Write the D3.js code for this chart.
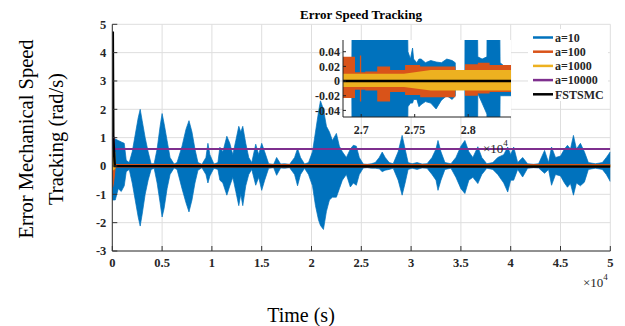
<!DOCTYPE html>
<html>
<head>
<meta charset="utf-8">
<script src="https://cdn.jsdelivr.net/npm/d3@7"></script>
<style>
  body { margin: 0; background: #fff; }
  svg { display: block; }
  text { font-family: "Liberation Serif", "Times New Roman", serif; }
</style>
</head>
<body>
<svg id="fig" width="625" height="326"></svg>
<script>
// ---- data (time in units of 1e4 s) ----
const xTicks = [0, 0.5, 1, 1.5, 2, 2.5, 3, 3.5, 4, 4.5, 5];
const yTicks = [-3, -2, -1, 0, 1, 2, 3, 4, 5];
const legendNames = ["a=10", "a=100", "a=1000", "a=10000", "FSTSMC"];
const colors = ["#0072BD", "#D95319", "#EDB120", "#7E2F8E", "#000000"];

// a=10 envelope (dense oscillation -> upper / lower)
const blueT = [0, 0.03, 0.06, 0.09, 0.12, 0.14, 0.17, 0.2, 0.23, 0.26, 0.28, 0.3, 0.33, 0.36, 0.39, 0.42, 0.45, 0.48, 0.5, 0.52, 0.55, 0.58, 0.62, 0.65, 0.7, 0.74, 0.77, 0.8, 0.83, 0.86, 0.9, 0.94, 0.96, 0.98, 1.02, 1.06, 1.08, 1.11, 1.15, 1.18, 1.21, 1.24, 1.27, 1.29, 1.31, 1.34, 1.37, 1.4, 1.44, 1.47, 1.5, 1.53, 1.57, 1.62, 1.65, 1.69, 1.73, 1.78, 1.83, 1.86, 1.89, 1.93, 1.97, 2.01, 2.04, 2.07, 2.09, 2.12, 2.15, 2.18, 2.21, 2.25, 2.28, 2.31, 2.35, 2.39, 2.42, 2.45, 2.48, 2.52, 2.56, 2.6, 2.64, 2.68, 2.71, 2.74, 2.78, 2.82, 2.87, 2.91, 2.94, 2.97, 3.01, 3.06, 3.11, 3.16, 3.21, 3.25, 3.27, 3.3, 3.34, 3.4, 3.45, 3.5, 3.54, 3.58, 3.62, 3.67, 3.71, 3.76, 3.82, 3.87, 3.93, 3.97, 4.0, 4.03, 4.07, 4.12, 4.17, 4.23, 4.28, 4.34, 4.38, 4.41, 4.45, 4.5, 4.54, 4.57, 4.6, 4.63, 4.66, 4.7, 4.74, 4.78, 4.85, 4.92, 4.96, 5.0];
const blueUp = [0.9, 0.95, 0.9, 0.85, 0.8, 0.2, 0.12, 0.5, 1.1, 1.7, 2.0, 1.6, 1.0, 0.5, 0.08, 0.08, 0.6, 1.4, 1.85, 1.5, 0.9, 0.3, 0.07, 0.12, 0.7, 1.3, 1.6, 1.2, 0.6, 0.12, 0.06, 0.3, 0.8, 0.4, 0.07, 0.12, 0.66, 0.5, 1.05, 0.8, 0.4, 0.9, 1.4, 1.2, 1.4, 0.8, 0.3, 0.12, 0.77, 0.4, 0.8, 0.5, 0.08, 0.06, 0.3, 0.07, 0.08, 0.06, 0.3, 0.62, 0.3, 0.07, 0.12, 0.5, 1.2, 1.9, 2.3, 2.0, 1.4, 1.2, 0.9, 1.15, 0.7, 0.5, 0.3, 0.6, 0.73, 0.7, 0.3, 0.07, 0.06, 0.08, 0.12, 0.3, 0.49, 0.3, 0.12, 0.08, 0.5, 1.08, 0.6, 0.12, 0.08, 0.12, 0.07, 0.08, 0.3, 0.6, 0.9, 0.5, 0.12, 0.08, 0.3, 0.7, 0.9, 0.5, 0.3, 0.68, 0.3, 0.08, 0.12, 0.3, 0.4, 0.67, 0.4, 0.67, 0.12, 0.3, 0.08, 0.06, 0.08, 0.55, 0.12, 0.67, 0.3, 0.35, 0.6, 0.73, 0.6, 1.08, 0.6, 0.8, 0.5, 0.12, 0.08, 0.12, 0.3, 0.5];
const blueLo = [-1.2, -1.2, -0.8, -0.9, -0.7, -0.2, -0.12, -0.6, -1.2, -1.8, -2.12, -1.7, -1.0, -0.5, -0.12, -0.08, -0.6, -1.3, -1.8, -1.5, -0.8, -0.3, -0.07, -0.12, -0.8, -1.3, -1.62, -1.2, -0.6, -0.15, -0.06, -0.3, -0.6, -0.35, -0.08, -0.12, -0.5, -0.6, -1.03, -0.7, -0.4, -0.9, -1.4, -1.0, -1.4, -0.7, -0.3, -0.12, -0.68, -0.4, -0.86, -0.5, -0.08, -0.06, -0.33, -0.07, -0.08, -0.06, -0.3, -0.7, -0.3, -0.08, -0.3, -0.7, -1.4, -1.9, -2.1, -2.24, -1.6, -1.2, -1.1, -1.1, -0.8, -0.5, -0.3, -0.74, -0.6, -0.68, -0.3, -0.07, -0.06, -0.08, -0.08, -0.1, -0.2, -0.15, -0.12, -0.08, -0.5, -1.03, -0.6, -0.12, -0.08, -0.12, -0.07, -0.08, -0.3, -0.5, -0.86, -0.5, -0.12, -0.08, -0.4, -0.8, -0.97, -0.5, -0.4, -0.62, -0.3, -0.08, -0.12, -0.3, -0.6, -0.92, -0.5, -0.5, -0.12, -0.39, -0.08, -0.06, -0.07, -0.26, -0.12, -0.68, -0.3, -0.35, -0.6, -0.75, -0.62, -1.03, -0.6, -0.7, -0.57, -0.12, -0.08, -0.12, -0.3, -0.55];

// a=100, a=1000 bands
const orangeT = [0, 0.003, 0.012, 0.025, 0.03, 5];
const orangeUp = [0, 0, 0, 0, 0.05, 0.05];
const orangeLo = [0, -0.75, -0.6, -0.2, -0.04, -0.04];
const yellowT = [0, 0.003, 0.025, 0.03, 5];
const yellowUp = [0.55, 0.55, 0.5, 0.015, 0.015];
const yellowLo = [-0.15, -0.15, -0.1, -0.015, -0.015];

// a=10000 and FSTSMC lines
const purpleT = [0, 0.003, 0.015, 0.02, 5];
const purpleV = [0.6, 1.08, 1.0, 0.6, 0.6];
const blackT = [0.005, 0.01, 0.025, 5];
const blackV = [4.75, 1.0, 0.0, -0.02];

// zoomed inset
const insetXTicks = [2.7, 2.75, 2.8];
const insetYTicks = [-0.04, -0.02, 0, 0.02, 0.04];
const insBlueT = [2.6912, 2.6914, 2.7435, 2.7437, 2.746, 2.748, 2.749, 2.752, 2.754, 2.756, 2.76, 2.765, 2.77, 2.775, 2.78, 2.785, 2.7879, 2.788, 2.7969, 2.797, 2.8088, 2.809, 2.813, 2.8175, 2.8176, 2.8296, 2.8298, 2.834, 2.84];
const insBlueUp = [0, 0.06, 0.06, 0.04, 0.03, 0.045, 0.03, 0.025, 0.03, 0.03, 0.025, 0.028, 0.026, 0.025, 0.03, 0.028, 0.025, 0, 0, 0.06, 0.06, 0.033, 0.03, 0.033, 0.06, 0.06, 0.025, 0.02, 0.02];
const insBlueLo = [0, -0.06, -0.06, -0.035, -0.03, -0.03, -0.025, -0.025, -0.035, -0.032, -0.028, -0.03, -0.038, -0.026, -0.02, -0.025, -0.02, 0, 0, -0.06, -0.06, -0.017, -0.03, -0.045, -0.06, -0.06, -0.02, -0.02, -0.02];
// orange is a sequence of blocks (step)
const insOrangeT = [2.683, 2.6942, 2.6988, 2.7, 2.7038, 2.715, 2.727, 2.741, 2.7551, 2.788, 2.797, 2.809, 2.82, 2.84];
const insOrangeUp = [0.033, 0.012, 0.035, 0.012, 0.013, 0.02, 0.015, 0.022, 0.02, 0.01, 0.023, 0.025, 0.022, 0.022];
const insOrangeLo = [-0.023, -0.012, -0.028, -0.012, -0.013, -0.028, -0.015, -0.019, -0.022, -0.01, -0.02, -0.017, -0.015, -0.015];
const insYellowT = [2.683, 2.74, 2.765, 2.84];
const insYellowUp = [0.01, 0.01, 0.015, 0.015];
const insYellowLo = [-0.008, -0.008, -0.013, -0.013];
const insBlackT = [2.683, 2.84];
const insBlackV = [0, 0];

// ---- layout ----
const svg = d3.select("#fig");
const pL = 112.3, pR = 610.3, pT = 24.3, pB = 251;
const x = d3.scaleLinear().domain([0, 5]).range([pL, pR]);
const y = d3.scaleLinear().domain([-3, 5]).range([pB, pT]);

const band = (T, U, L) => T.map((t, i) => ({t, u: U[i], l: L[i]}));
const pts = (T, V) => T.map((t, i) => ({t, v: V[i]}));

svg.append("clipPath").attr("id", "mainClip")
  .append("rect").attr("x", pL).attr("y", pT).attr("width", pR - pL).attr("height", pB - pT);

// grid
const grid = svg.append("g").attr("stroke", "#dedede").attr("stroke-width", 1);
xTicks.forEach(t => grid.append("line").attr("x1", x(t)).attr("x2", x(t)).attr("y1", pT).attr("y2", pB));
yTicks.forEach(t => grid.append("line").attr("x1", pL).attr("x2", pR).attr("y1", y(t)).attr("y2", y(t)));

// series
const plot = svg.append("g").attr("clip-path", "url(#mainClip)");
const area = d3.area().x(d => x(d.t)).y0(d => y(d.l)).y1(d => y(d.u));
const line = d3.line().x(d => x(d.t)).y(d => y(d.v));

plot.append("path").datum(band(blueT, blueUp, blueLo))
  .attr("d", area).attr("fill", colors[0]).attr("stroke", colors[0]).attr("stroke-width", 0.7);
plot.append("path").datum(band(orangeT, orangeUp, orangeLo))
  .attr("d", area).attr("fill", colors[1]).attr("stroke", colors[1]).attr("stroke-width", 1);
plot.append("path").datum(band(yellowT, yellowUp, yellowLo))
  .attr("d", area).attr("fill", colors[2]).attr("stroke", colors[2]).attr("stroke-width", 1);
plot.append("path").datum(pts(purpleT, purpleV))
  .attr("d", line).attr("fill", "none").attr("stroke", colors[3]).attr("stroke-width", 2);
plot.append("path").datum(pts(blackT, blackV))
  .attr("d", line).attr("fill", "none").attr("stroke", colors[4]).attr("stroke-width", 2.5);

// axes (left + bottom, ticks inward)
const axisColor = "#333";
const ax = svg.append("g");
ax.append("line").attr("x1", pL).attr("x2", pL).attr("y1", pT).attr("y2", pB).attr("stroke", axisColor);
ax.append("line").attr("x1", pL).attr("x2", pR).attr("y1", pB).attr("y2", pB).attr("stroke", axisColor);
yTicks.forEach(t => {
  ax.append("line").attr("x1", pL).attr("x2", pL + 5).attr("y1", y(t)).attr("y2", y(t)).attr("stroke", axisColor);
  ax.append("text").attr("x", pL - 6).attr("y", y(t)).attr("dy", "0.35em")
    .attr("text-anchor", "end").attr("font-size", 12.5).attr("font-weight", "bold").attr("fill", "#262626").text(t);
});
xTicks.forEach(t => {
  ax.append("line").attr("x1", x(t)).attr("x2", x(t)).attr("y1", pB).attr("y2", pB - 5).attr("stroke", axisColor);
  ax.append("text").attr("x", x(t)).attr("y", pB + 16)
    .attr("text-anchor", "middle").attr("font-size", 12.5).attr("font-weight", "bold").attr("fill", "#262626").text(t);
});

// exponent label
const ex = svg.append("text").attr("x", 583).attr("y", 287).attr("font-size", 13).attr("fill", "#262626");
ex.append("tspan").text("\u00d710");
ex.append("tspan").attr("dy", -7).attr("font-size", 9).text("4");

// titles
svg.append("text").attr("x", 361).attr("y", 19).attr("text-anchor", "middle")
  .attr("font-size", 13).attr("font-weight", "bold").text("Error Speed Tracking");
svg.append("text").attr("x", 301).attr("y", 322).attr("text-anchor", "middle")
  .attr("font-size", 20).text("Time (s)");
const yl = svg.append("text").attr("transform", "translate(33,139) rotate(-90)")
  .attr("text-anchor", "middle").attr("font-size", 20.5);
yl.append("tspan").attr("x", 0).attr("y", 0).text("Error Mechanical Speed");
yl.append("tspan").attr("x", 0).attr("y", 30).text("Tracking (rad/s)");

// ---- inset ----
const iL = 343, iR = 511, iT = 40, iB = 117;
const ix = d3.scaleLinear().domain([2.683, 2.84]).range([iL, iR]);
const iy = d3.scaleLinear().domain([-0.049, 0.056]).range([iB, iT]);
svg.append("rect").attr("x", iL).attr("y", iT).attr("width", iR - iL).attr("height", iB - iT).attr("fill", "#fff");
svg.append("clipPath").attr("id", "insClip")
  .append("rect").attr("x", iL).attr("y", iT).attr("width", iR - iL).attr("height", iB - iT);
const ins = svg.append("g").attr("clip-path", "url(#insClip)");
const iarea = d3.area().x(d => ix(d.t)).y0(d => iy(d.l)).y1(d => iy(d.u));
const iline = d3.line().x(d => ix(d.t)).y(d => iy(d.v));

ins.append("path").datum(band(insBlueT, insBlueUp, insBlueLo))
  .attr("d", iarea).attr("fill", colors[0]).attr("stroke", colors[0]).attr("stroke-width", 0.8);
ins.append("path").datum(band(insOrangeT, insOrangeUp, insOrangeLo))
  .attr("d", iarea.curve(d3.curveStepAfter)).attr("fill", colors[1]);
iarea.curve(d3.curveLinear);
ins.append("path").datum(band(insYellowT, insYellowUp, insYellowLo))
  .attr("d", iarea).attr("fill", colors[2]);
ins.append("path").datum(pts(insBlackT, insBlackV))
  .attr("d", iline).attr("fill", "none").attr("stroke", "#000").attr("stroke-width", 2.5);

const iax = svg.append("g");
iax.append("line").attr("x1", iL).attr("x2", iL).attr("y1", iT).attr("y2", iB).attr("stroke", "#222");
iax.append("line").attr("x1", iL).attr("x2", iR).attr("y1", iB).attr("y2", iB).attr("stroke", "#222");
insetYTicks.forEach(t => {
  iax.append("line").attr("x1", iL).attr("x2", iL + 3).attr("y1", iy(t)).attr("y2", iy(t)).attr("stroke", "#222");
  iax.append("text").attr("x", iL - 3).attr("y", iy(t)).attr("dy", "0.35em").attr("text-anchor", "end")
    .attr("font-size", 12).attr("font-weight", "bold").attr("fill", "#262626").text(t === 0 ? "0" : t.toFixed(2));
});
insetXTicks.forEach(t => {
  iax.append("line").attr("x1", ix(t)).attr("x2", ix(t)).attr("y1", iB).attr("y2", iB - 3).attr("stroke", "#222");
  iax.append("text").attr("x", ix(t)).attr("y", iB + 17).attr("text-anchor", "middle")
    .attr("font-size", 12).attr("font-weight", "bold").attr("fill", "#262626").text(t);
});
const iex = svg.append("text").attr("x", 483).attr("y", 153).attr("font-size", 13).attr("fill", "#262626");
iex.append("tspan").text("\u00d710");
iex.append("tspan").attr("dy", -7).attr("font-size", 9).text("4");

// ---- legend ----
const lg = svg.append("g");
lg.append("rect").attr("x", 528).attr("y", 29).attr("width", 80).attr("height", 72).attr("fill", "#fff");
legendNames.forEach((name, i) => {
  const ly = 37.5 + i * 14.2;
  lg.append("line").attr("x1", 533).attr("x2", 553).attr("y1", ly).attr("y2", ly)
    .attr("stroke", colors[i]).attr("stroke-width", 2.5);
  lg.append("text").attr("x", 555).attr("y", ly).attr("dy", "0.35em")
    .attr("font-size", 12).attr("font-weight", "bold").attr("fill", "#262626").text(name);
});
</script>
</body>
</html>
